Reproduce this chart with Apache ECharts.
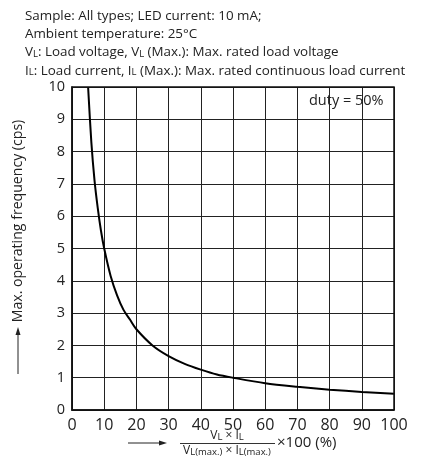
<!DOCTYPE html>
<html><head><meta charset="utf-8">
<script src="https://cdn.jsdelivr.net/npm/echarts@6/dist/echarts.min.js"></script>
<style>html,body{margin:0;padding:0;background:#fff}#c{width:435px;height:457px}</style>
</head><body><div id="c"></div>
<script>
const xValues = [5, 6, 7, 8, 9, 10, 12, 14, 16, 18, 20, 25, 30, 35, 40, 45, 50, 60, 70, 80, 90, 100];
const freqValues = [10, 8.3, 7.1, 6.25, 5.55, 5, 4.15, 3.55, 3.1, 2.8, 2.5, 2, 1.67, 1.43, 1.25, 1.1, 1, 0.83, 0.72, 0.63, 0.56, 0.5];
const xTicks = [0, 10, 20, 30, 40, 50, 60, 70, 80, 90, 100];
const yTicks = [0, 1, 2, 3, 4, 5, 6, 7, 8, 9, 10];

const FONT = '"Open Sans", "Noto Sans", sans-serif';
const TXT = '#222';
const sub = { s: { fontSize: 9.5, verticalAlign: 'bottom', padding: [0, 0, 0, 0], fontFamily: FONT, fill: TXT } };
const sub2 = { s: { fontSize: 9.5, padding: [3, 0, 0, 0], fontFamily: FONT, fill: TXT } };

const chart = echarts.init(document.getElementById('c'));
chart.setOption({
  animation: false,
  backgroundColor: '#fff',
  grid: { left: 72, right: 41, top: 87, bottom: 47 },
  xAxis: {
    type: 'value', min: xTicks[0], max: xTicks[xTicks.length - 1], interval: 10,
    axisLine: { show: true, lineStyle: { color: '#111', width: 1.5 } },
    axisTick: { show: false },
    axisLabel: { color: TXT, fontSize: 16, fontFamily: FONT, margin: 7 },
    splitLine: { show: true, lineStyle: { color: '#222', width: 1 } }
  },
  yAxis: {
    type: 'value', min: yTicks[0], max: yTicks[yTicks.length - 1], interval: 1,
    axisLine: { show: true, lineStyle: { color: '#111', width: 1.5 } },
    axisTick: { show: false },
    axisLabel: { color: TXT, fontSize: 14.5, fontFamily: FONT, margin: 7 },
    splitLine: { show: true, lineStyle: { color: '#222', width: 1 } }
  },
  series: [{
    type: 'line',
    data: xValues.map((x, i) => [x, freqValues[i]]),
    smooth: 0.3,
    showSymbol: false,
    lineStyle: { color: '#000', width: 2 }
  }],
  graphic: [
    { type: 'rect', shape: { x: 72, y: 87, width: 322, height: 323 }, style: { fill: 'none', stroke: '#111', lineWidth: 1.5 }, silent: true, z: 10 },
    { type: 'text', left: 25, top: 9.5, style: { text: 'Sample: All types; LED current: 10 mA;', font: '13.4px ' + FONT, fill: TXT } },
    { type: 'text', left: 25, top: 27.8, style: { text: 'Ambient temperature: 25°C', font: '13.4px ' + FONT, fill: TXT } },
    { type: 'text', left: 25, top: 46.1, style: { text: 'V{s|L}: Load voltage, V{s|L} (Max.): Max. rated load voltage', font: '13.4px ' + FONT, fill: TXT, rich: sub } },
    { type: 'text', left: 25, top: 64.4, style: { text: 'I{s|L}: Load current, I{s|L} (Max.): Max. rated continuous load current', font: '13.4px ' + FONT, fill: TXT, rich: sub } },
    { type: 'text', x: 309, y: 101, style: { text: 'duty = 50%', font: '14.5px ' + FONT, fill: TXT, verticalAlign: 'middle' } },
    // y-axis name
    { type: 'text', x: 18, y: 221, rotation: Math.PI / 2, style: { text: 'Max. operating frequency (cps)', font: '14.1px ' + FONT, fill: TXT, align: 'center', verticalAlign: 'middle' } },
    { type: 'line', shape: { x1: 18, y1: 374, x2: 18, y2: 334 }, style: { stroke: '#222', lineWidth: 1 } },
    { type: 'polygon', shape: { points: [[18, 327], [15.5, 335], [20.5, 335]] }, style: { fill: '#222' } },
    // x-axis name
    { type: 'line', shape: { x1: 128, y1: 443, x2: 160, y2: 443 }, style: { stroke: '#222', lineWidth: 1 } },
    { type: 'polygon', shape: { points: [[167, 443], [159, 440.5], [159, 445.5]] }, style: { fill: '#222' } },
    { type: 'text', x: 227, y: 435.5, style: { text: 'V{s|L} × I{s|L}', font: '12px ' + FONT, fill: TXT, align: 'center', verticalAlign: 'middle', rich: sub2 } },
    { type: 'line', shape: { x1: 180, y1: 443.5, x2: 275, y2: 443.5 }, style: { stroke: '#333', lineWidth: 1 } },
    { type: 'text', x: 227, y: 451, style: { text: 'V{s|L(max.)} × I{s|L(max.)}', font: '12px ' + FONT, fill: TXT, align: 'center', verticalAlign: 'middle', rich: sub2 } },
    { type: 'text', x: 277, y: 443, style: { text: '×100 (%)', font: '15px ' + FONT, fill: TXT, verticalAlign: 'middle' } }
  ]
});
</script></body></html>
